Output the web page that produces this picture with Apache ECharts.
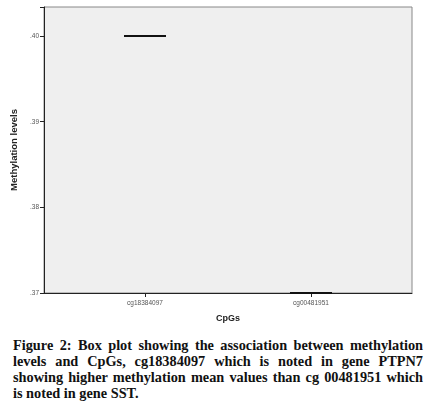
<!DOCTYPE html>
<html>
<head>
<meta charset="utf-8">
<script src="https://cdn.jsdelivr.net/npm/echarts@6/dist/echarts.min.js"></script>
<style>
  html, body { margin: 0; padding: 0; background: #fff; }
  #chart { position: absolute; left: 0; top: 0; width: 441px; height: 330px; }
  .caption {
    position: absolute;
    left: 13px;
    top: 337px;
    width: 410px;
    font-family: 'Liberation Serif', serif;
    font-weight: bold;
    font-size: 14.3px;
    line-height: 16px;
    text-align: justify;
    color: #111;
  }
</style>
</head>
<body>
<div id="chart"></div>
<div class="caption">Figure 2: Box plot showing the association between methylation levels and CpGs, cg18384097 which is noted in gene PTPN7 showing higher methylation mean values than cg 00481951 which is noted in gene SST.</div>
<script>
// CpG sites and their box values [min, Q1, median, Q3, max]
var cpgs = ['cg18384097', 'cg00481951']
var boxValues = [
  [0.40, 0.40, 0.40, 0.40, 0.40],
  [0.37, 0.37, 0.37, 0.37, 0.37]
]
var yTicks = [0.37, 0.38, 0.39, 0.40]
var yMin = 0.37
var yMax = 0.4034

var labelFont = { fontFamily: 'Liberation Sans', color: '#555' }

var chart = echarts.init(document.getElementById('chart'))
chart.setOption({
  animation: false,
  grid: [
    // frame with the grey plot background
    { left: 44, top: 7, width: 368, height: 286, show: true, backgroundColor: '#efefef', borderColor: '#888', borderWidth: 1 },
    // inner grid so the two categories sit where SPSS puts them
    { left: 62, top: 7, width: 332, height: 286 }
  ],
  xAxis: [
    {
      gridIndex: 0,
      type: 'value',
      min: 0,
      max: 1,
      name: 'CpGs',
      nameLocation: 'middle',
      nameGap: 21,
      nameTextStyle: { fontFamily: 'Liberation Sans', fontWeight: 'bold', fontSize: 9, color: '#222' },
      splitLine: { show: false },
      axisLine: { onZero: false, lineStyle: { color: '#222', width: 1 } },
      axisTick: { show: false },
      axisLabel: { show: false }
    },
    {
      gridIndex: 1,
      type: 'category',
      data: cpgs,
      axisLine: { show: false },
      axisTick: { show: true, alignWithLabel: true, length: 4, lineStyle: { color: '#222' } },
      axisLabel: Object.assign({ fontSize: 6.5, margin: 7, interval: 0 }, labelFont)
    }
  ],
  yAxis: [
    {
      gridIndex: 0,
      type: 'value',
      min: yMin,
      max: yMax,
      interval: 0.01,
      name: 'Methylation levels',
      nameLocation: 'middle',
      nameGap: 22,
      nameTextStyle: { fontFamily: 'Liberation Sans', fontWeight: 'bold', fontSize: 9.5, color: '#222' },
      splitLine: { show: false },
      axisLine: { show: true, onZero: false, lineStyle: { color: '#222', width: 1 } },
      axisTick: { show: true, length: 4, lineStyle: { color: '#222' } },
      axisLabel: Object.assign({
        customValues: yTicks,
        fontSize: 6.5,
        margin: 5,
        formatter: function (v) { return v.toFixed(2).replace(/^0/, '') }
      }, labelFont)
    },
    {
      gridIndex: 1,
      type: 'value',
      min: yMin,
      max: yMax,
      show: false,
      splitLine: { show: false }
    }
  ],
  series: [{
    type: 'boxplot',
    xAxisIndex: 1,
    yAxisIndex: 1,
    data: boxValues,
    boxWidth: [42, 42],
    itemStyle: { color: '#efefef', borderColor: '#111', borderWidth: 2 }
  }]
})
</script>
</body>
</html>
